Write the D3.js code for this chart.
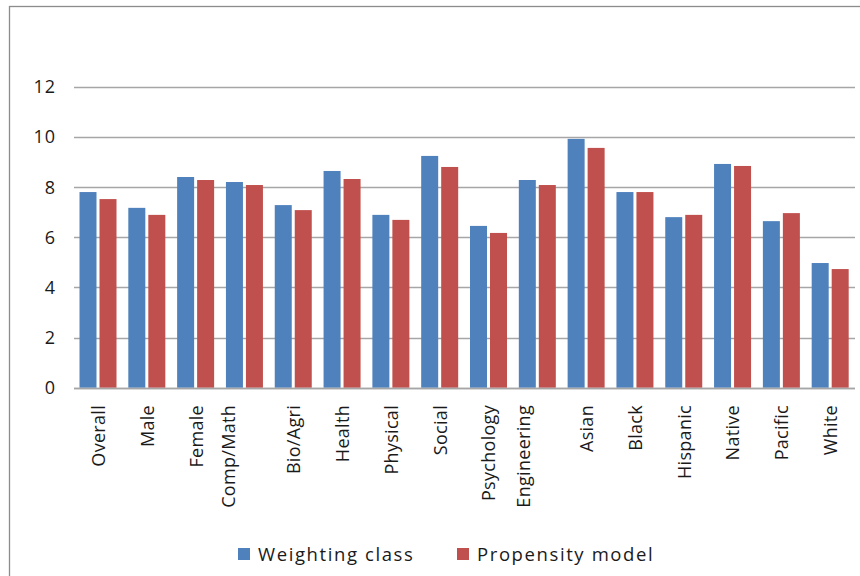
<!DOCTYPE html>
<html>
<head>
<meta charset="utf-8">
<script src="https://cdn.jsdelivr.net/npm/d3@7"></script>
<style>
  html, body { margin: 0; padding: 0; background: #fff; }
  svg { display: block; }
  text { font-family: "Open Sans", "Liberation Sans", sans-serif; fill: #1a1a1a; }
</style>
</head>
<body>
<svg id="chart" width="860" height="576"></svg>
<script>
// Response-rate estimates by subgroup, two weighting approaches
const categories = ["Overall", "Male", "Female", "Comp/Math", "Bio/Agri", "Health", "Physical", "Social",
  "Psychology", "Engineering", "Asian", "Black", "Hispanic", "Native", "Pacific", "White"];
const weightingClass = [7.80, 7.17, 8.40, 8.20, 7.28, 8.64, 6.89, 9.24, 6.45, 8.28, 9.92, 7.80, 6.80, 8.92, 6.64, 4.97];
const propensityModel = [7.52, 6.89, 8.28, 8.08, 7.08, 8.32, 6.69, 8.80, 6.17, 8.08, 9.56, 7.80, 6.89, 8.84, 6.96, 4.73];
const seriesNames = ["Weighting class", "Propensity model"];
const yTicks = [0, 2, 4, 6, 8, 10, 12];

const colors = ["#4f81bd", "#c0504d"];
const svg = d3.select("#chart");

svg.append("rect").attr("width", 860).attr("height", 576).attr("fill", "#fff");
// chart frame (extends past the right and bottom edges)
svg.append("rect")
  .attr("x", 9.5).attr("y", 6.5).attr("width", 900).attr("height", 620)
  .attr("fill", "none").attr("stroke", "#8c8c8c").attr("stroke-width", 1.3);

const x = d3.scaleBand().domain(categories).range([74, 855]).padding(0);
const y = d3.scaleLinear().domain([0, 12]).range([387.7, 86.7]);
const inner = d3.scaleBand().domain(seriesNames).range([5.5, 42.5]).paddingInner(0.15).paddingOuter(0);

// horizontal gridlines
svg.append("g").selectAll("line").data(yTicks).join("line")
  .attr("x1", 74).attr("x2", 855)
  .attr("y1", d => Math.round(y(d)) + 0.5).attr("y2", d => Math.round(y(d)) + 0.5)
  .attr("stroke", "#a6a6a6").attr("stroke-width", 1.3);

// y tick labels
svg.append("g").selectAll("text").data(yTicks).join("text")
  .attr("x", 56).attr("y", d => y(d)).attr("dy", "0.36em")
  .attr("text-anchor", "end").attr("font-size", 18).attr("letter-spacing", 1)
  .text(d => d);

// bars
const rows = categories.map((c, i) => ({ c, vals: [weightingClass[i], propensityModel[i]] }));
const groups = svg.append("g").selectAll("g").data(rows).join("g")
  .attr("transform", d => `translate(${x(d.c)},0)`);
groups.selectAll("rect").data(d => d.vals.map((v, k) => ({ v, s: seriesNames[k], k }))).join("rect")
  .attr("x", d => inner(d.s))
  .attr("width", inner.bandwidth())
  .attr("y", d => y(d.v))
  .attr("height", d => y(0) - y(d.v))
  .attr("fill", d => colors[d.k]);

// axis baseline
svg.append("line").attr("x1", 74).attr("x2", 855)
  .attr("y1", Math.round(y(0)) + 0.5).attr("y2", Math.round(y(0)) + 0.5)
  .attr("stroke", "#a6a6a6").attr("stroke-width", 1.5);

// category labels, rotated
const labelNudge = { "Comp/Math": -16, "Engineering": -14 };
svg.append("g").selectAll("text").data(categories).join("text")
  .attr("transform", d => `translate(${x(d) + x.bandwidth() / 2 + (labelNudge[d] || 0)},405) rotate(-90)`)
  .attr("dy", "0.36em")
  .attr("text-anchor", "end").attr("font-size", 18).attr("letter-spacing", 0.3)
  .text(d => d);

// legend
const legendX = [238, 457];
const legend = svg.append("g").selectAll("g").data(seriesNames).join("g")
  .attr("transform", (d, i) => `translate(${legendX[i]},548)`);
legend.append("rect").attr("width", 12).attr("height", 12).attr("fill", (d, i) => colors[i]);
legend.append("text").attr("x", 20).attr("y", 12.5).attr("font-size", 18.5).attr("letter-spacing", 1.6)
  .text(d => d);
</script>
</body>
</html>
